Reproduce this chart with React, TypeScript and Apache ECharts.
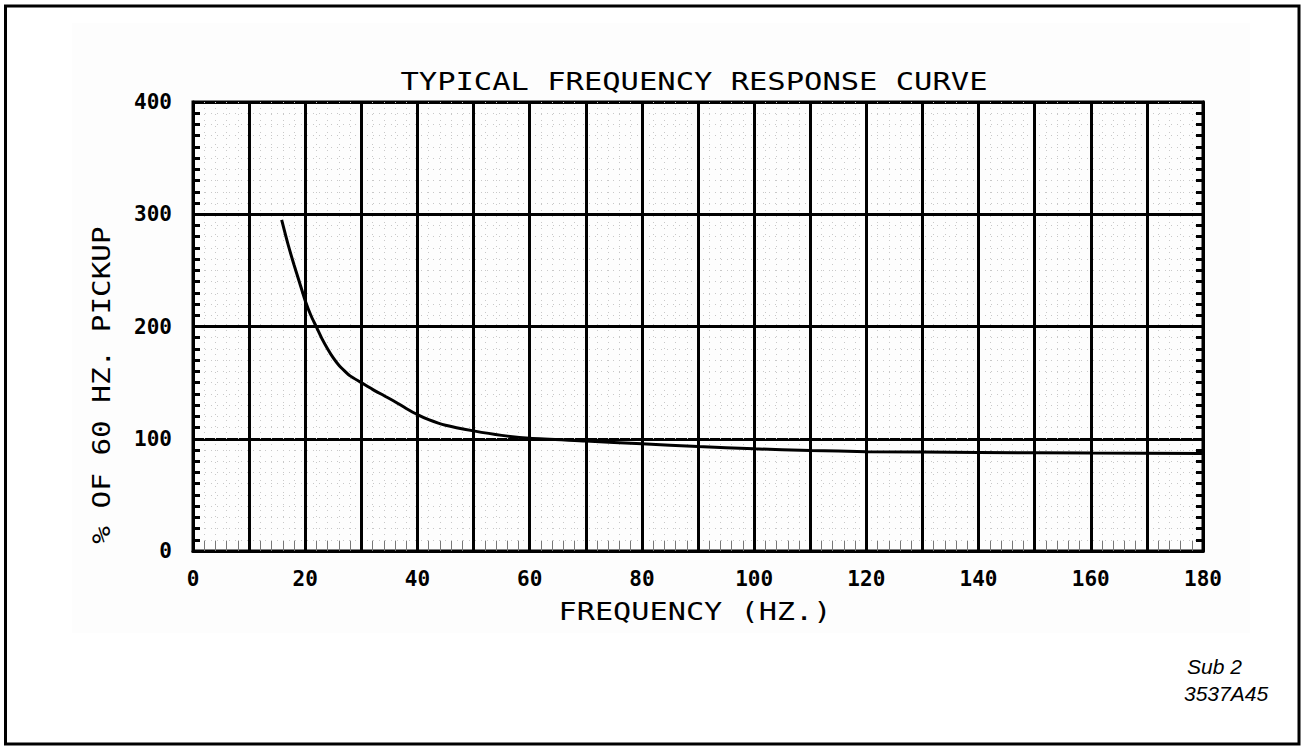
import React, { useEffect, useRef } from "react";
import * as echarts from "echarts";

const freqHz: number[] = [15.8, 17, 18, 19, 20, 21, 22, 23, 24, 25, 26, 27, 28, 30, 32, 34, 36, 38, 40, 42, 45, 50, 55, 60, 70, 80, 90, 100, 110, 120, 140, 160, 180];
const pickupPct: number[] = [295, 272, 255, 239, 223, 210, 199.5, 189, 180, 172, 165.5, 160.5, 156, 150, 144, 138.5, 133, 127, 121.5, 117, 112, 107, 103, 100.4, 98, 95.5, 93, 91, 89.6, 88.5, 87.8, 87.2, 86.8];

const titleText = "TYPICAL FREQUENCY RESPONSE CURVE";
const xName = "FREQUENCY (HZ.)";
const yName = "% OF 60 HZ. PICKUP";
const noteLines: string[] = ["Sub 2", "3537A45"];

const MONO = "'DejaVu Sans Mono', monospace";

export default function App() {
  const ref = useRef<HTMLDivElement>(null);
  useEffect(() => {
    if (!ref.current) return;
    const chart = echarts.init(ref.current, null, { renderer: "svg" });
    const data = freqHz.map((f, i) => [f, pickupPct[i]]);
    const leftY = {
      type: "value",
      min: 0,
      max: 400,
      interval: 100,
      position: "left",
      axisLine: { show: true, lineStyle: { color: "#000", width: 3 } },
      axisTick: { show: true, inside: true, length: 7, lineStyle: { color: "#000", width: 3 } },
      minorTick: { show: true, splitNumber: 10, length: 7, lineStyle: { color: "#000", width: 3 } },
      splitLine: { show: true, lineStyle: { color: "#000", width: 3 } },
      minorSplitLine: { show: true, lineStyle: { color: "#c8c8c8", width: 1, type: [1, 5] } },
      axisLabel: { show: true, margin: 21, color: "#000", fontFamily: MONO, fontWeight: "bold", fontSize: 21 },
    };
    const rightY = {
      type: "value",
      min: 0,
      max: 400,
      interval: 100,
      position: "right",
      axisLine: { show: true, lineStyle: { color: "#000", width: 3 } },
      axisTick: { show: true, inside: true, length: 7, lineStyle: { color: "#000", width: 3 } },
      minorTick: { show: true, splitNumber: 10, length: 7, lineStyle: { color: "#000", width: 3 } },
      splitLine: { show: false },
      axisLabel: { show: false },
    };
    chart.setOption({
      animation: false,
      backgroundColor: "#fff",
      grid: { left: 193, top: 102, width: 1010, height: 449, show: true, borderColor: "#000", borderWidth: 3, backgroundColor: "transparent" },
      xAxis: {
        type: "value",
        min: 0,
        max: 180,
        interval: 10,
        axisLine: { show: true, lineStyle: { color: "#000", width: 3 } },
        axisTick: { show: true, inside: true, length: 10, lineStyle: { color: "#000", width: 2 } },
        minorTick: { show: true, splitNumber: 5, length: 10, lineStyle: { color: "#777", width: 1 } },
        splitLine: { show: true, lineStyle: { color: "#000", width: 3 } },
        minorSplitLine: { show: true, lineStyle: { color: "#c8c8c8", width: 1, type: [1, 5] } },
        axisLabel: {
          show: true,
          margin: 17,
          color: "#000",
          fontFamily: MONO,
          fontWeight: "bold",
          fontSize: 21,
          formatter: (v: number) => (v % 20 === 0 ? String(v) : ""),
        },
      },
      yAxis: [leftY, rightY],
      series: [
        {
          type: "line",
          data,
          smooth: 0.25,
          showSymbol: false,
          symbol: "none",
          lineStyle: { color: "#000", width: 3 },
          z: 10,
        },
      ],
      graphic: [
        { type: "rect", z: -10, shape: { x: 72, y: 23, width: 1178, height: 610 }, style: { fill: "#fdfdfd" }, silent: true },
        { type: "rect", z: 100, shape: { x: 5.5, y: 6, width: 1293.5, height: 738 }, style: { fill: "none", stroke: "#000", lineWidth: 3 }, silent: true },
        {
          type: "text",
          x: 694,
          y: 82,
          scaleX: 1.27,
          style: { text: titleText, fontFamily: MONO, fontSize: 24, fill: "#000", align: "center", verticalAlign: "middle" },
        },
        {
          type: "text",
          x: 695,
          y: 612,
          scaleX: 1.26,
          style: { text: xName, fontFamily: MONO, fontSize: 24, fill: "#000", align: "center", verticalAlign: "middle" },
        },
        {
          type: "text",
          x: 101,
          y: 385,
          rotation: Math.PI / 2,
          scaleX: 1.22,
          style: { text: yName, fontFamily: MONO, fontSize: 24, fill: "#000", align: "center", verticalAlign: "middle" },
        },
        {
          type: "text",
          x: 1187,
          y: 677,
          style: { text: noteLines[0], fontFamily: "'Liberation Sans', Arial, sans-serif", fontStyle: "italic", fontSize: 21, fill: "#000", align: "left", verticalAlign: "bottom" },
        },
        {
          type: "text",
          x: 1184,
          y: 704,
          style: { text: noteLines[1], fontFamily: "'Liberation Sans', Arial, sans-serif", fontStyle: "italic", fontSize: 21, fill: "#000", align: "left", verticalAlign: "bottom" },
        },
      ],
    });
    return () => chart.dispose();
  }, []);
  return <div ref={ref} style={{ position: "fixed", left: 0, top: 0, width: 1302, height: 747, background: "#fff" }} />;
}
